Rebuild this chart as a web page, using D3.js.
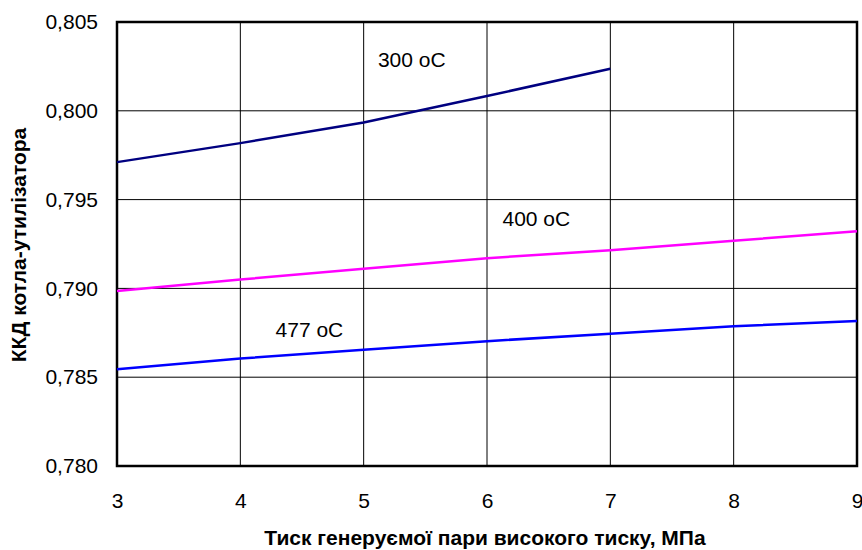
<!DOCTYPE html>
<html>
<head>
<meta charset="utf-8">
<script src="https://cdn.jsdelivr.net/npm/d3@7"></script>
<style>
  body { margin: 0; background: #fff; }
  text { font-family: "Liberation Sans", Arial, sans-serif; }
</style>
</head>
<body>
<div id="chart"></div>
<script>
// pressure, MPa
const pressure = [3, 4, 5, 6, 7, 8, 9];
const xTicks = [3, 4, 5, 6, 7, 8, 9];
const yTicks = [0.780, 0.785, 0.790, 0.795, 0.800, 0.805];

// efficiency per gas temperature
const eff300 = [0.79711, 0.79818, 0.79934, 0.80083, 0.80237];
const eff400 = [0.78986, 0.79050, 0.79110, 0.79170, 0.79215, 0.79268, 0.79322];
const eff477 = [0.78545, 0.78605, 0.78654, 0.78703, 0.78745, 0.78787, 0.78817];

const seriesNames = ["300 oC", "400 oC", "477 oC"];
const seriesColors = ["#000080", "#ff00ff", "#0000ff"];
// where each label sits (x in MPa, y in efficiency units)
const labelPos = [[5.39, 0.8028], [6.40, 0.7938], [4.56, 0.7876]];

const margin = { top: 22, right: 5, bottom: 84, left: 117 },
      width = 862 - margin.left - margin.right,
      height = 550 - margin.top - margin.bottom;

const svg = d3.select("#chart")
    .append("svg")
    .attr("width", 862)
    .attr("height", 550)
    .append("g")
    .attr("transform", `translate(${margin.left},${margin.top})`);

const x = d3.scaleLinear().domain([3, 9]).range([0, 740]);
const y = d3.scaleLinear().domain([0.780, 0.805]).range([444, 0]);

// grid
svg.append("g")
    .selectAll("line")
    .data(xTicks.slice(1, -1))
    .enter().append("line")
    .attr("x1", d => x(d)).attr("x2", d => x(d))
    .attr("y1", 0).attr("y2", 444)
    .attr("stroke", "#000").attr("stroke-width", 1);

svg.append("g")
    .selectAll("line")
    .data(yTicks.slice(1, -1))
    .enter().append("line")
    .attr("x1", 0).attr("x2", 740)
    .attr("y1", d => y(d)).attr("y2", d => y(d))
    .attr("stroke", "#000").attr("stroke-width", 1);

// axes
const fmt = d => d3.format(".3f")(d).replace(".", ",");

const yAxis = svg.append("g")
    .call(d3.axisLeft(y).tickValues(yTicks).tickFormat(fmt).tickSize(0).tickPadding(19));
yAxis.select(".domain").remove();
yAxis.selectAll("text").style("font-size", "21px").attr("fill", "#000");

const xAxis = svg.append("g")
    .attr("transform", "translate(0,444)")
    .call(d3.axisBottom(x).tickValues(xTicks).tickFormat(d3.format("d")).tickSize(0).tickPadding(27));
xAxis.select(".domain").remove();
xAxis.selectAll("text").style("font-size", "21px").attr("fill", "#000");

// frame
svg.append("rect")
    .attr("x", 0).attr("y", 0)
    .attr("width", 740).attr("height", 444)
    .attr("fill", "none")
    .attr("stroke", "#000")
    .attr("stroke-width", 2.5);

// lines
const allSeries = [eff300, eff400, eff477];
const line = d3.line()
    .x((d, i) => x(pressure[i]))
    .y(d => y(d));

allSeries.forEach((s, i) => {
    svg.append("path")
        .datum(s)
        .attr("fill", "none")
        .attr("stroke", seriesColors[i])
        .attr("stroke-width", 2.5)
        .attr("d", line);

    svg.append("text")
        .attr("x", x(labelPos[i][0]))
        .attr("y", y(labelPos[i][1]))
        .attr("text-anchor", "middle")
        .attr("dominant-baseline", "middle")
        .style("font-size", "21px")
        .text(seriesNames[i]);
});

// axis titles
svg.append("text")
    .attr("x", 368)
    .attr("y", 523)
    .attr("text-anchor", "middle")
    .style("font-size", "21px")
    .style("font-weight", "bold")
    .text("Тиск генеруємої пари високого тиску, МПа");

svg.append("text")
    .attr("transform", "rotate(-90)")
    .attr("x", -223)
    .attr("y", -91)
    .attr("text-anchor", "middle")
    .style("font-size", "21px")
    .style("font-weight", "bold")
    .text("ККД котла-утилізатора");
</script>
</body>
</html>
